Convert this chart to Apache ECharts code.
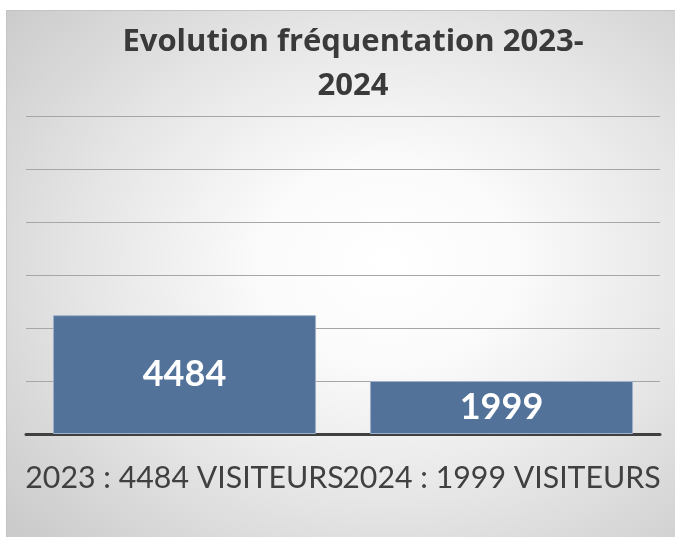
<!DOCTYPE html>
<html>
<head>
<meta charset="utf-8">
<script src="https://cdn.jsdelivr.net/npm/echarts@6/dist/echarts.min.js"></script>
<style>
  html, body { margin: 0; padding: 0; background: #ffffff; }
  #bg { position: absolute; left: 6px; top: 10px; width: 669px; height: 527px;
        border-top: 1px solid #c4c4c4; border-left: 1px solid #c4c4c4; box-sizing: border-box;
        background: radial-gradient(ellipse 75% 75% at 57% 48%, #ffffff 0%, #fbfbfb 25%, #e6e6e6 60%, #cbcbcb 100%); }
  #chart { position: absolute; left: 0; top: 0; width: 675px; height: 537px; }
</style>
</head>
<body>
<div id="bg"></div>
<div id="chart"></div>
<script>
var titleText = "Evolution fréquentation 2023-\n2024";
var categories = ["2023 : 4484 VISITEURS", "2024 : 1999 VISITEURS"];
var visitors = [4484, 1999];
var yMin = 0, yMax = 12000, yStep = 2000;

var chart = echarts.init(document.getElementById('chart'), null, { renderer: 'canvas' });
chart.setOption({
  backgroundColor: 'transparent',
  animation: false,
  title: {
    text: titleText,
    left: 348, top: 15, textAlign: 'center',
    textStyle: { fontFamily: 'Open Sans', fontWeight: 'bold', fontSize: 31, lineHeight: 44, color: '#3a3a3a' }
  },
  grid: { left: 26, right: 15, top: 116, bottom: 103, containLabel: false },
  xAxis: {
    type: 'category',
    data: categories,
    axisLine: { show: true, lineStyle: { color: '#404040', width: 3 } },
    axisTick: { show: false },
    axisLabel: { interval: 0, margin: 29, fontFamily: 'Lato', fontSize: 30.3, color: '#404040', hideOverlap: false }
  },
  yAxis: {
    type: 'value', min: yMin, max: yMax, interval: yStep,
    axisLine: { show: false }, axisTick: { show: false }, axisLabel: { show: false },
    splitLine: { show: true, lineStyle: { color: '#a6a6a6', width: 1 } }
  },
  series: [{
    type: 'bar',
    data: visitors,
    barWidth: '83%',
    itemStyle: { color: '#52729a', borderColor: '#9fb1c8', borderWidth: 1 },
    label: { show: true, position: 'inside', color: '#ffffff', fontFamily: 'Lato', fontWeight: 'bold', fontSize: 36 }
  }]
});
</script>
</body>
</html>
